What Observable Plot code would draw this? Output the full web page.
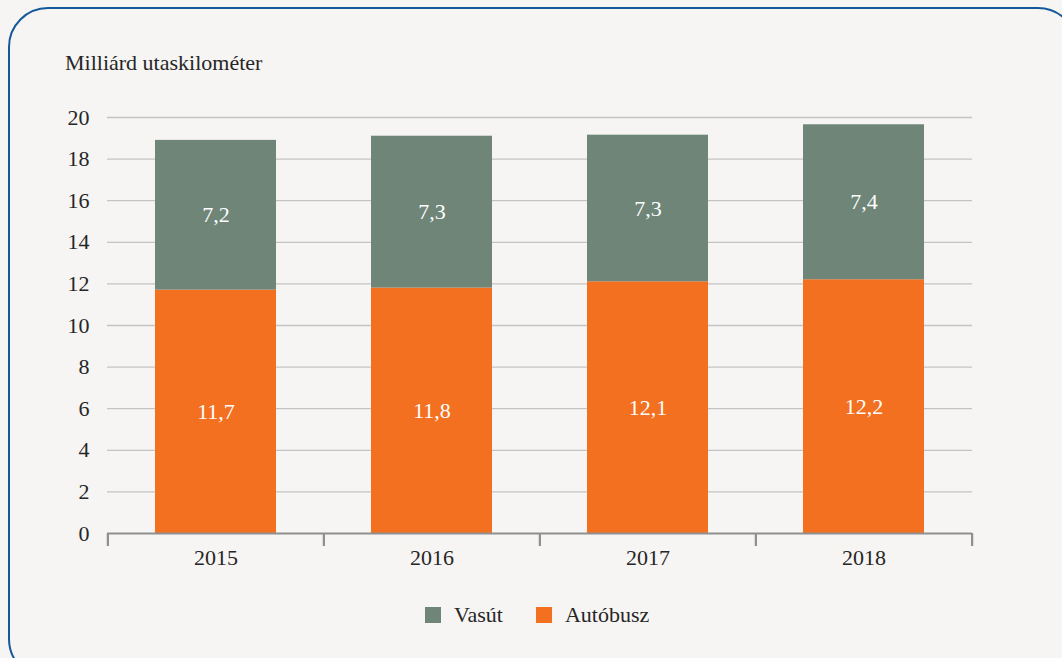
<!DOCTYPE html>
<html>
<head>
<meta charset="utf-8">
<script src="https://cdn.jsdelivr.net/npm/d3@7"></script>
<script src="https://cdn.jsdelivr.net/npm/@observablehq/plot@0.6"></script>
<style>
  html, body { margin: 0; padding: 0; background: #f6f5f3; width: 1062px; height: 658px; overflow: hidden; }
  body { position: relative; font-family: "Liberation Serif", "Times New Roman", "DejaVu Serif", serif; color: #262626; }
  #frame { position: absolute; left: 8px; top: 7px; width: 1070px; height: 672px; border: 2px solid #15599b; border-radius: 40px; box-sizing: border-box; }
  #title { position: absolute; left: 65px; top: 52px; font-size: 22px; line-height: 22px; }
  #chart { position: absolute; left: 0; top: 0; }
  #legend { position: absolute; left: 425px; top: 603px; display: flex; align-items: center; font-size: 22px; line-height: 24px; font-family: "Liberation Serif", serif; }
  .sw { width: 16px; height: 16px; display: inline-block; margin-right: 13px; }
  .item { display: flex; align-items: center; margin-right: 33px; }
</style>
</head>
<body>
<div id="frame"></div>
<div id="title">Milliárd utaskilométer</div>
<div id="chart"></div>
<div id="legend"></div>
<script>
const years = ["2015", "2016", "2017", "2018"];
const seriesNames = ["Vasút", "Autóbusz"];
const seriesColors = ["#6e8578", "#f37021"];
// bar heights as drawn in the picture
const railValues = [7.2, 7.3, 7.05, 7.45];
const busValues = [11.7, 11.8, 12.1, 12.2];
// value labels as printed in the picture
const railLabels = ["7,2", "7,3", "7,3", "7,4"];
const busLabels = ["11,7", "11,8", "12,1", "12,2"];
const yTicks = [0, 2, 4, 6, 8, 10, 12, 14, 16, 18, 20];

const data = [];
years.forEach((y, i) => {
  data.push({year: y, series: "Autóbusz", value: busValues[i], label: busLabels[i]});
  data.push({year: y, series: "Vasút", value: railValues[i], label: railLabels[i]});
});

const W = 1062, H = 580;
const mL = 107, mR = 90, mT = 117, mB = 47;
const step = (W - mL - mR) / years.length;
const stackOrder = ["Autóbusz", "Vasút"];
const FONT = "'Liberation Serif', 'Times New Roman', serif";

const chart = Plot.plot({
  width: W,
  height: H,
  marginLeft: mL,
  marginRight: mR,
  marginTop: mT,
  marginBottom: mB,
  style: {background: "transparent", fontSize: "22px", color: "#262626"},
  x: {domain: years, paddingInner: 0.44, paddingOuter: 0.22, label: null},
  y: {domain: [0, 20], label: null},
  color: {domain: seriesNames, range: seriesColors},
  marks: [
    Plot.ruleY(yTicks.filter(d => d > 0), {stroke: "#c4c4c4", strokeWidth: 1.3}),
    Plot.barY(data, {x: "year", y: "value", fill: "series", z: "series", order: stackOrder}),
    Plot.text(data, Plot.stackY({x: "year", y: "value", z: "series", order: stackOrder, text: "label", fill: "white", fontSize: 22})),
    Plot.ruleY([0], {stroke: "#8f8f8f", strokeWidth: 2.2}),
    Plot.axisX({tickSize: 13, dx: -step / 2, text: null, label: null, stroke: "#8f8f8f", strokeWidth: 2.2}),
    Plot.axisX({ticks: [years[years.length - 1]], tickSize: 13, dx: step / 2, text: null, label: null, stroke: "#8f8f8f", strokeWidth: 2.2}),
    Plot.axisX({tickSize: 0, tickPadding: 16, fontSize: 22, label: null}),
    Plot.axisY({ticks: yTicks, tickSize: 0, tickPadding: 18, fontSize: 22, label: null})
  ]
});
// force the serif face on every SVG text node
chart.style.fontFamily = FONT;
d3.select(chart).selectAll("g, text").attr("font-family", null).style("font-family", FONT);
document.getElementById("chart").appendChild(chart);

const legend = document.getElementById("legend");
seriesNames.forEach((name, i) => {
  const item = document.createElement("div");
  item.className = "item";
  const sw = document.createElement("span");
  sw.className = "sw";
  sw.style.background = seriesColors[i];
  item.appendChild(sw);
  item.appendChild(document.createTextNode(name));
  legend.appendChild(item);
});
</script>
</body>
</html>
